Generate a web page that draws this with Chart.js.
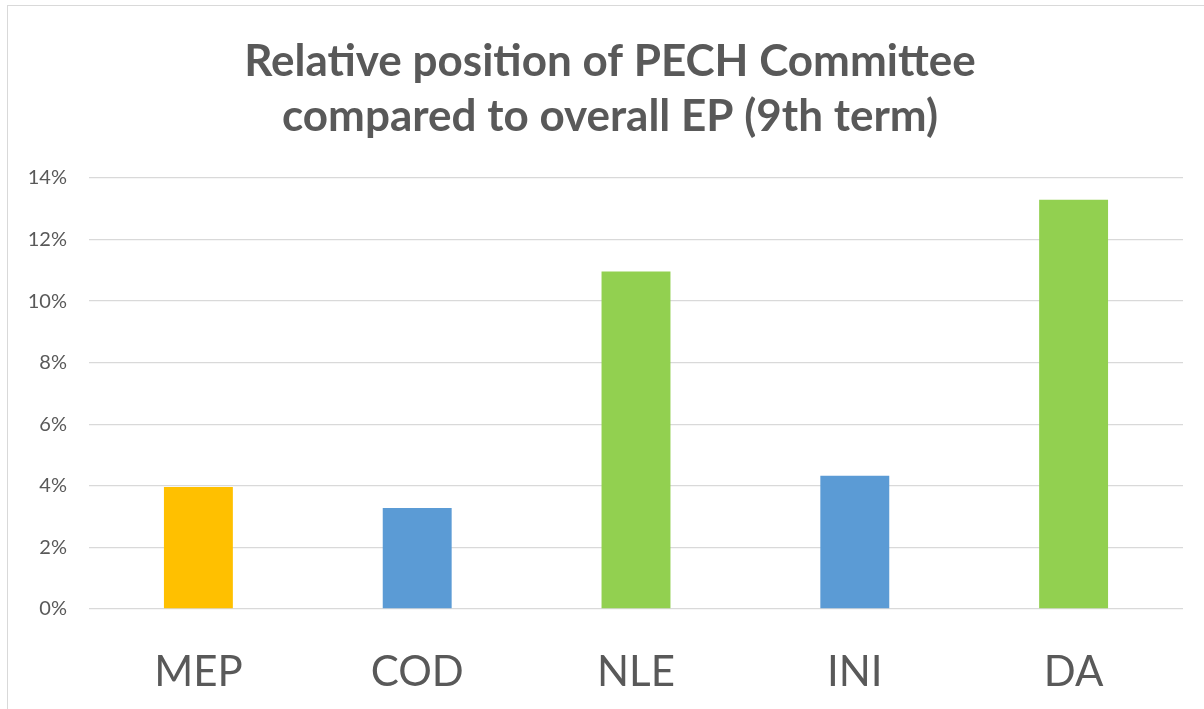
<!DOCTYPE html>
<html>
<head>
<meta charset="utf-8">
<script src="https://cdn.jsdelivr.net/npm/chart.js@4"></script>
<style>
html,body{margin:0;padding:0;background:#fff;overflow:hidden}
#wrap{position:relative;width:1204px;height:709px}
#frame{position:absolute;left:7px;top:5px;width:1220px;height:730px;border:1.5px solid #d9d9d9;box-sizing:border-box}
canvas{position:absolute;left:0;top:0}
</style>
</head>
<body>
<div id="wrap">
<div id="frame"></div>
<canvas id="chart" width="1204" height="709"></canvas>
</div>
<script>
// values (percent)
let categories = ["MEP", "COD", "NLE", "INI", "DA"]
let values = [3.96, 3.28, 10.96, 4.33, 13.29]
let barColors = ["#FFC000", "#5B9BD5", "#92D050", "#5B9BD5", "#92D050"]
let titleLines = ["Relative position of PECH Committee", "compared to overall EP (9th term)"]

let textColor = "#595959"
let font = "Lato, 'Open Sans', sans-serif"

new Chart(document.getElementById("chart"), {
  type: "bar",
  data: {
    labels: categories,
    datasets: [{
      data: values,
      backgroundColor: barColors,
      categoryPercentage: 1,
      barPercentage: 0.315
    }]
  },
  options: {
    responsive: false,
    animation: false,
    layout: { padding: { left: 16, right: 0, top: 0, bottom: 14 } },
    plugins: {
      legend: { display: false },
      tooltip: { enabled: false },
      title: {
        display: true,
        text: titleLines,
        color: textColor,
        font: { family: font, size: 44, weight: "bold", lineHeight: 1.25 },
        padding: { top: 34, bottom: 34 }
      }
    },
    scales: {
      x: {
        grid: { display: false, drawTicks: false },
        border: { display: false },
        ticks: { color: textColor, font: { family: font, size: 42 }, padding: 38, maxRotation: 0 },
        afterFit: s => { s.height = 86; s.paddingRight = 21 }
      },
      y: {
        min: 0,
        max: 14,
        grid: { color: "#d9d9d9", lineWidth: 1.3, drawTicks: false },
        border: { display: false },
        ticks: {
          stepSize: 2,
          color: textColor,
          font: { family: font, size: 20 },
          padding: 22,
          callback: v => v + "%"
        },
        afterFit: s => { s.width = 73 }
      }
    }
  }
})
</script>
</body>
</html>
